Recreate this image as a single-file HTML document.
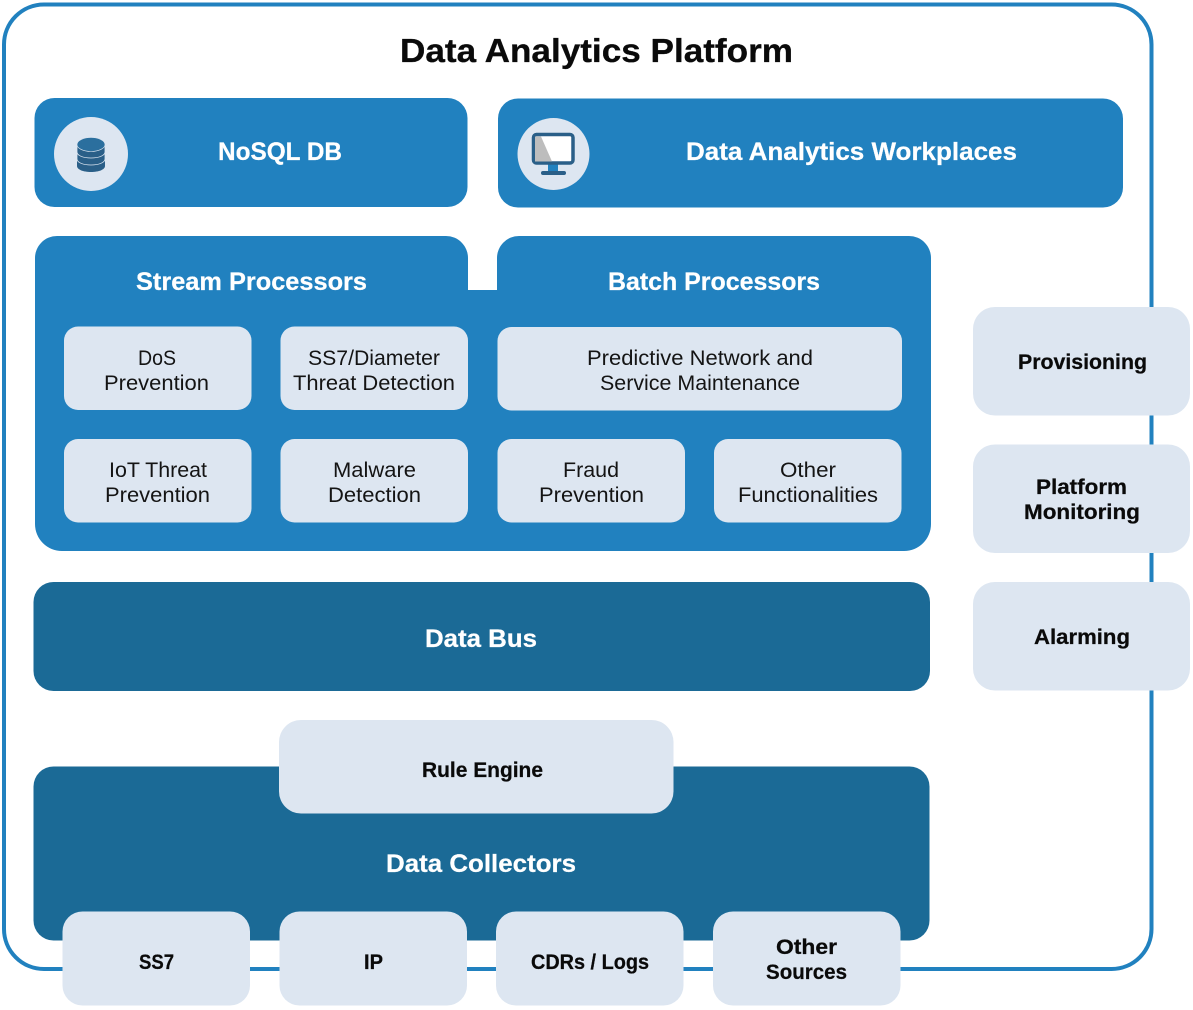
<!DOCTYPE html>
<html>
<head>
<meta charset="utf-8">
<style>
html,body{margin:0;padding:0;background:#fff}
svg{display:block}
text{font-family:"Liberation Sans",Arial,sans-serif}
.r{font-size:21.5px;fill:#141414}
.b{font-size:21.5px;font-weight:700;fill:#0a0a0a;stroke:#0a0a0a;stroke-width:.25px}
.h{font-size:25px;font-weight:700;fill:#fff;stroke:#fff;stroke-width:.25px}
</style>
</head>
<body>
<svg xmlns="http://www.w3.org/2000/svg" width="1193" height="1010" viewBox="0 0 1193 1010">
<rect x="4" y="4.500" width="1147.500" height="964.500" rx="40" ry="40" fill="#fff" stroke="#2181bf" stroke-width="4"/>

<text x="400" y="62" font-size="33" font-weight="700" fill="#0a0a0a" stroke="#0a0a0a" stroke-width=".3" textLength="393" lengthAdjust="spacingAndGlyphs">Data Analytics Platform</text>

<!-- top bars -->
<rect x="34.500" y="98" width="433" height="109" rx="20" fill="#2181bf"/>
<rect x="498" y="98.500" width="625" height="109" rx="20" fill="#2181bf"/>
<circle cx="91" cy="154" r="37" fill="#dde6f1"/>
<circle cx="553.500" cy="154" r="36" fill="#dde6f1"/>

<!-- db icon -->
<g>
<path d="M77 166v-8h28v8c0 3.500-6 6-14 6s-14-2.500-14-6z" fill="#2a5f88"/>
<path d="M77 159v-8h28v8c0 3.500-6 6-14 6s-14-2.500-14-6z" fill="#2a5f88" stroke="#dde6f1" stroke-width=".8"/>
<path d="M77 152v-8h28v8c0 3.500-6 6-14 6s-14-2.500-14-6z" fill="#2a5f88" stroke="#dde6f1" stroke-width=".8"/>
<ellipse cx="91" cy="144.500" rx="14" ry="7" fill="#2b6f9e" stroke="#dde6f1" stroke-width=".6"/>
</g>

<!-- monitor icon -->
<g>
<rect x="548" y="164" width="10" height="7" fill="#2181bf"/>
<rect x="541" y="171" width="25" height="4" rx="2" fill="#2a5f88"/>
<rect x="533.500" y="134.500" width="39.500" height="28.500" rx="3" fill="#fff" stroke="#2a5f88" stroke-width="3.500"/>
<path d="M535 136.500h6l11 25H535z" fill="#bdbdbd"/>
</g>

<text class="h" x="218" y="160" textLength="124" lengthAdjust="spacingAndGlyphs">NoSQL DB</text>
<text class="h" x="686" y="160" textLength="331" lengthAdjust="spacingAndGlyphs">Data Analytics Workplaces</text>

<!-- processors -->
<path d="M35 258a22 22 0 0 1 22-22H446a22 22 0 0 1 22 22V290H497V258a22 22 0 0 1 22-22H909a22 22 0 0 1 22 22V524a27 27 0 0 1-27 27H62a27 27 0 0 1-27-27z" fill="#2181bf"/>
<text class="h" x="136" y="290" textLength="231" lengthAdjust="spacingAndGlyphs">Stream Processors</text>
<text class="h" x="608" y="290" textLength="212" lengthAdjust="spacingAndGlyphs">Batch Processors</text>

<g fill="#dde6f1">
<rect x="64" y="326.500" width="187.500" height="83.500" rx="14"/>
<rect x="280.500" y="326.500" width="187.500" height="83.500" rx="14"/>
<rect x="497.500" y="327" width="404.500" height="83.500" rx="14"/>
<rect x="64" y="439" width="187.500" height="83.500" rx="14"/>
<rect x="280.500" y="439" width="187.500" height="83.500" rx="14"/>
<rect x="497.500" y="439" width="187.500" height="83.500" rx="14"/>
<rect x="714" y="439" width="187.500" height="83.500" rx="14"/>
</g>

<text class="r" x="138" y="365" textLength="38" lengthAdjust="spacingAndGlyphs">DoS</text>
<text class="r" x="104" y="390" textLength="105" lengthAdjust="spacingAndGlyphs">Prevention</text>
<text class="r" x="308" y="365" textLength="132" lengthAdjust="spacingAndGlyphs">SS7/Diameter</text>
<text class="r" x="293" y="390" textLength="162" lengthAdjust="spacingAndGlyphs">Threat Detection</text>
<text class="r" x="587" y="365" textLength="226" lengthAdjust="spacingAndGlyphs">Predictive Network and</text>
<text class="r" x="600" y="390" textLength="200" lengthAdjust="spacingAndGlyphs">Service Maintenance</text>
<text class="r" x="109" y="477" textLength="98" lengthAdjust="spacingAndGlyphs">IoT Threat</text>
<text class="r" x="105" y="502" textLength="105" lengthAdjust="spacingAndGlyphs">Prevention</text>
<text class="r" x="333" y="477" textLength="83" lengthAdjust="spacingAndGlyphs">Malware</text>
<text class="r" x="328" y="502" textLength="93" lengthAdjust="spacingAndGlyphs">Detection</text>
<text class="r" x="563" y="477" textLength="56" lengthAdjust="spacingAndGlyphs">Fraud</text>
<text class="r" x="539" y="502" textLength="105" lengthAdjust="spacingAndGlyphs">Prevention</text>
<text class="r" x="780" y="477" textLength="56" lengthAdjust="spacingAndGlyphs">Other</text>
<text class="r" x="738" y="502" textLength="140" lengthAdjust="spacingAndGlyphs">Functionalities</text>

<!-- data bus -->
<rect x="33.500" y="582" width="896.500" height="109" rx="20" fill="#1b6a96"/>
<text class="h" x="425" y="647" textLength="112" lengthAdjust="spacingAndGlyphs">Data Bus</text>

<!-- collectors -->
<rect x="33.500" y="766.500" width="896" height="174" rx="20" fill="#1b6a96"/>
<rect x="279" y="720" width="394.500" height="93.500" rx="22" fill="#dde6f1"/>
<text class="b" x="422" y="777" textLength="121" lengthAdjust="spacingAndGlyphs">Rule Engine</text>
<text class="h" x="386" y="872" textLength="190" lengthAdjust="spacingAndGlyphs">Data Collectors</text>

<g fill="#dde6f1">
<rect x="62.500" y="911.500" width="187.500" height="94" rx="20"/>
<rect x="279.500" y="911.500" width="187.500" height="94" rx="20"/>
<rect x="496" y="911.500" width="187.500" height="94" rx="20"/>
<rect x="713" y="911.500" width="187.500" height="94" rx="20"/>
<rect x="973" y="307" width="217" height="108.500" rx="22"/>
<rect x="973" y="444.500" width="217" height="108.500" rx="22"/>
<rect x="973" y="582" width="217" height="108.500" rx="22"/>
</g>

<text class="b" x="139" y="969" textLength="35" lengthAdjust="spacingAndGlyphs">SS7</text>
<text class="b" x="364" y="969" textLength="19" lengthAdjust="spacingAndGlyphs">IP</text>
<text class="b" x="531" y="969" textLength="118" lengthAdjust="spacingAndGlyphs">CDRs / Logs</text>
<text class="b" x="776" y="954" textLength="61" lengthAdjust="spacingAndGlyphs">Other</text>
<text class="b" x="766" y="979" textLength="81" lengthAdjust="spacingAndGlyphs">Sources</text>
<text class="b" x="1018" y="369" textLength="129" lengthAdjust="spacingAndGlyphs">Provisioning</text>
<text class="b" x="1036" y="494" textLength="91" lengthAdjust="spacingAndGlyphs">Platform</text>
<text class="b" x="1024" y="519" textLength="116" lengthAdjust="spacingAndGlyphs">Monitoring</text>
<text class="b" x="1034" y="644" textLength="96" lengthAdjust="spacingAndGlyphs">Alarming</text>
</svg>
</body>
</html>
